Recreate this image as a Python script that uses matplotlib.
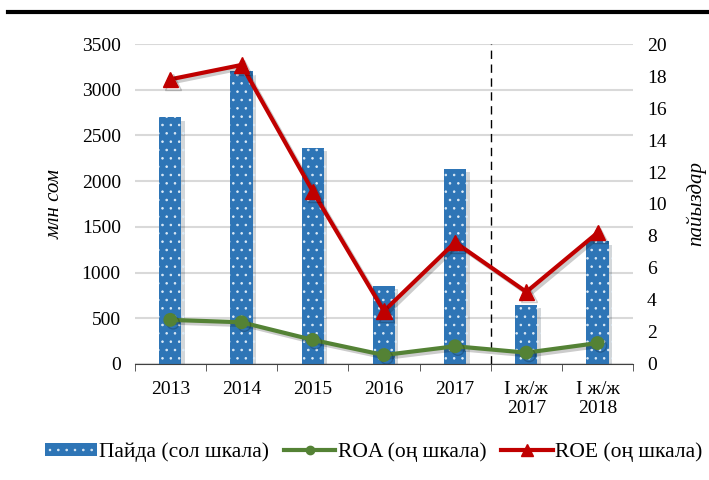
import matplotlib.pyplot as plt
import matplotlib.patheffects as pe
from matplotlib.lines import Line2D
from matplotlib.patches import Patch
import numpy as np

plt.rcParams['font.family'] = ['Liberation Serif', 'DejaVu Serif']
plt.rcParams['hatch.linewidth'] = 0.6

# данные
categories = ["2013", "2014", "2015", "2016", "2017", "I ж/ж\n2017", "I ж/ж\n2018"]
profit = [2700, 3205, 2365, 853, 2135, 645, 1340]
roa = [2.75, 2.6, 1.5, 0.55, 1.1, 0.7, 1.3]
roe = [17.8, 18.7, 10.8, 3.3, 7.6, 4.5, 8.2]

x = np.arange(len(categories))

fig = plt.figure(figsize=(7.09, 4.80), dpi=100)
ax = fig.add_axes([0.19, 0.242, 0.703, 0.666])
ax2 = ax.twinx()

shadow = [pe.SimplePatchShadow(offset=(2.5, -2.5), alpha=0.18), pe.Normal()]
bars = ax.bar(x, profit, width=0.31, color="#2E75B6", edgecolor="#DDEBF7",
              hatch="..", linewidth=0, zorder=2)
for b in bars:
    b.set_path_effects(shadow)

lshadow = [pe.SimpleLineShadow(offset=(2, -2), alpha=0.2), pe.Normal()]
ax2.plot(x, roa, color="#548235", lw=3, marker="o", ms=9, path_effects=lshadow)
ax2.plot(x, roe, color="#C00000", lw=3, marker="^", ms=11, path_effects=lshadow)

ax.set_xlim(-0.5, len(categories) - 0.5)
ax.set_ylim(0, 3500)
ax.set_yticks(range(0, 3501, 500))
ax2.set_ylim(0, 20)
ax2.set_yticks(range(0, 21, 2))

ax.yaxis.grid(True, color="#D9D9D9", lw=1.5, zorder=0)
ax.set_axisbelow(True)
for a in (ax, ax2):
    for s in ("top", "left", "right"):
        a.spines[s].set_visible(False)
    a.tick_params(axis="y", length=0, labelsize=14, pad=10)
ax2.spines["bottom"].set_visible(False)
ax.spines["bottom"].set_color("#404040")

ax.set_xticks(x)
ax.set_xticklabels(categories, fontsize=14)
ax.set_xticks(np.arange(-0.5, len(categories) + 0.5, 1), minor=True)
ax.tick_params(axis="x", which="major", length=0, pad=12)
ax.tick_params(axis="x", which="minor", length=5, direction="out", color="#404040")

ax.axvline(4.5, color="black", lw=1, ls=(0, (6, 4)), zorder=1)

ax.set_ylabel("млн сом", fontsize=15, style="italic", labelpad=12)
ax2.set_ylabel("пайыздар", fontsize=15, style="italic", rotation=90, labelpad=14)

fig.add_artist(Line2D([0.011, 1.0], [0.975, 0.975], color="black", lw=3))

handles = [
    Patch(facecolor="#2E75B6", edgecolor="#DDEBF7", hatch="..", linewidth=0),
    Line2D([], [], color="#548235", lw=3, marker="o", ms=6),
    Line2D([], [], color="#C00000", lw=3, marker="^", ms=8),
]
labels = ["Пайда (сол шкала)", "ROA (оң шкала)", "ROE (оң шкала)"]
fig.legend(handles, labels, loc="center", bbox_to_anchor=(0.527, 0.058), ncol=3,
           frameon=False, fontsize=15.5, handlelength=2.4, handleheight=0.55,
           handletextpad=0.1, columnspacing=0.7, borderpad=0.2)

plt.savefig("out.png", dpi=100)
